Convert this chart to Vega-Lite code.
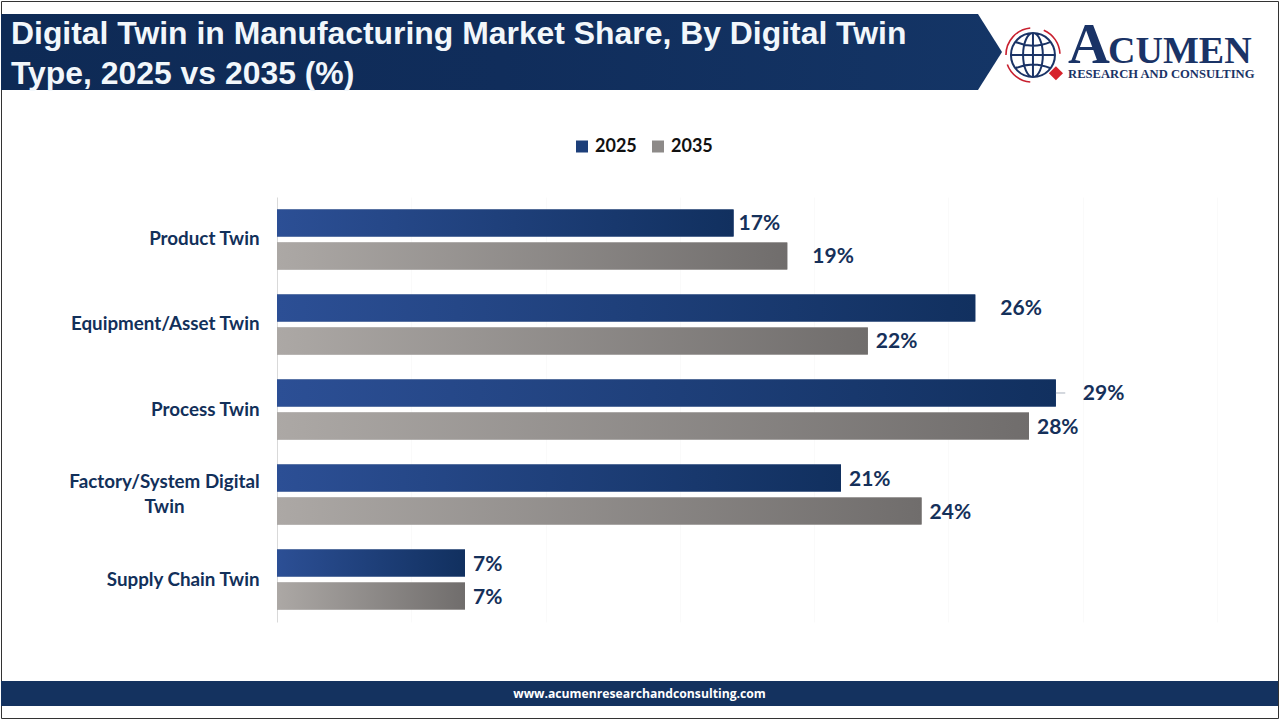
{
  "$schema": "https://vega.github.io/schema/vega-lite/v6.json",
  "background": "white",
  "padding": 0,
  "spacing": 0,
  "bounds": "flush",
  "config": {"view": {"stroke": null}, "font": "Lato"},
  "datasets": {
    "shares": [
      {"category": "Product Twin", "year": "2025", "share": 17},
      {"category": "Product Twin", "year": "2035", "share": 19},
      {"category": "Equipment/Asset Twin", "year": "2025", "share": 26},
      {"category": "Equipment/Asset Twin", "year": "2035", "share": 22},
      {"category": "Process Twin", "year": "2025", "share": 29},
      {"category": "Process Twin", "year": "2035", "share": 28},
      {"category": "Factory/System Digital Twin", "year": "2025", "share": 21},
      {"category": "Factory/System Digital Twin", "year": "2035", "share": 24},
      {"category": "Supply Chain Twin", "year": "2025", "share": 7},
      {"category": "Supply Chain Twin", "year": "2035", "share": 7}
    ],
    "banner": [
      {"u": 0, "low": 0, "high": 1},
      {"u": 0.976, "low": 0, "high": 1},
      {"u": 1, "low": 0.5, "high": 0.5}
    ]
  },
  "vconcat": [
    {
      "hconcat": [
        {
          "width": 1277,
          "height": 717,
          "view": {"stroke": "#333333", "strokeWidth": 1},
          "data": {"values": []},
          "mark": "rule",
          "encoding": {}
        }
      ],
      "spacing": 0,
      "bounds": "flush"
    },
    {"width": 1, "height": 13, "data": {"values": []}, "mark": "rule", "encoding": {}},
    {
      "hconcat": [
        {
          "width": 1001,
          "height": 76,
          "title": {
            "text": ["Digital Twin in Manufacturing Market Share, By Digital Twin", "Type, 2025 vs 2035 (%)"],
            "anchor": "start",
            "frame": "group",
            "dx": 10,
            "offset": -77,
            "font": "Liberation Sans",
            "fontSize": 31.9,
            "fontWeight": "bold",
            "lineHeight": 40,
            "color": "#f2f7fb"
          },
          "data": {"name": "banner"},
          "mark": {
            "type": "area",
            "color": {
              "gradient": "linear",
              "x1": 0,
              "x2": 1,
              "y1": 0,
              "y2": 0,
              "stops": [
                {"offset": 0, "color": "#0e2a55"},
                {"offset": 0.5, "color": "#102d5b"},
                {"offset": 1, "color": "#143566"}
              ]
            }
          },
          "encoding": {
            "x": {"field": "u", "type": "quantitative", "axis": null, "scale": {"domain": [0, 1], "nice": false}},
            "y": {"field": "low", "type": "quantitative", "axis": null, "scale": {"domain": [0, 1], "nice": false, "zero": false}},
            "y2": {"field": "high"}
          }
        },
        {
          "width": 258,
          "height": 76,
          "data": {"values": [{}]},
          "encoding": {
            "x": {"type": "quantitative", "axis": null, "scale": {"domain": [0, 1], "nice": false, "zero": false}},
            "y": {"type": "quantitative", "axis": null, "scale": {"domain": [1, 0], "nice": false, "zero": false}}
          },
          "layer": [
            {
              "mark": {
                "type": "point",
                "filled": false,
                "color": "#1a3366",
                "strokeWidth": 2,
                "opacity": 1,
                "size": 1936,
                "shape": "M-1,0A1,1,0,1,1,1,0A1,1,0,1,1,-1,0ZM-0.45,0A0.45,1,0,1,1,0.45,0A0.45,1,0,1,1,-0.45,0ZM0,-1L0,1M-1,0L1,0M-0.8,-0.6Q0,-0.25,0.8,-0.6M-0.8,0.6Q0,0.25,0.8,0.6"
              },
              "encoding": {"x": {"datum": 0.12, "type": "quantitative"}, "y": {"datum": 0.54, "type": "quantitative"}}
            },
            {
              "mark": {
                "type": "point",
                "filled": false,
                "color": "#c8202f",
                "strokeWidth": 1.6,
                "opacity": 1,
                "size": 2916,
                "shape": "M-1,0A1,1,0,0,1,-0.1,-1M0.4,-0.92A1,1,0,0,1,1,-0.05M-0.95,0.35A1,1,0,0,0,-0.1,1"
              },
              "encoding": {"x": {"datum": 0.12, "type": "quantitative"}, "y": {"datum": 0.54, "type": "quantitative"}}
            },
            {
              "mark": {"type": "point", "filled": true, "shape": "diamond", "color": "#d7222b", "opacity": 1, "size": 200},
              "encoding": {"x": {"datum": 0.209, "type": "quantitative"}, "y": {"datum": 0.78, "type": "quantitative"}}
            },
            {
              "mark": {"type": "text", "text": "A", "align": "left", "baseline": "alphabetic", "font": "Liberation Serif", "fontWeight": "bold", "fontSize": 58, "color": "#1a3366"},
              "encoding": {"x": {"datum": 0.256, "type": "quantitative"}, "y": {"datum": 0.645, "type": "quantitative"}}
            },
            {
              "mark": {"type": "text", "text": "CUMEN", "align": "left", "baseline": "alphabetic", "font": "Liberation Serif", "fontWeight": "bold", "fontSize": 38, "color": "#1a3366"},
              "encoding": {"x": {"datum": 0.411, "type": "quantitative"}, "y": {"datum": 0.645, "type": "quantitative"}}
            },
            {
              "mark": {"type": "text", "text": "RESEARCH AND CONSULTING", "align": "left", "baseline": "alphabetic", "font": "Liberation Serif", "fontWeight": "bold", "fontSize": 12.6, "color": "#1a3366"},
              "encoding": {"x": {"datum": 0.256, "type": "quantitative"}, "y": {"datum": 0.842, "type": "quantitative"}}
            }
          ]
        }
      ],
      "spacing": 0,
      "bounds": "flush"
    },
    {"width": 1, "height": 182.5, "data": {"values": []}, "mark": "rule", "encoding": {}},
    {
      "hconcat": [
        {"width": 276, "height": 1, "data": {"values": []}, "mark": "rule", "encoding": {}},
        {
          "width": 940,
          "height": 425,
          "data": {"name": "shares"},
          "encoding": {
            "x": {
              "field": "share",
              "type": "quantitative",
              "title": null,
              "scale": {"domain": [0, 35], "nice": false},
              "axis": {"values": [5, 10, 15, 20, 25, 30, 35], "labels": false, "ticks": false, "domain": false, "grid": true, "gridColor": "#fafafa"}
            },
            "y": {
              "field": "category",
              "type": "nominal",
              "sort": null,
              "title": null,
              "scale": {"paddingInner": 0.2941, "paddingOuter": 0.147},
              "axis": {
                "ticks": false,
                "domainColor": "#d9d9d9",
                "labelPadding": 18,
                "labelLimit": 300,
                "labelFont": "Lato",
                "labelFontSize": 18.8,
                "labelFontWeight": "bold",
                "labelColor": "#12305a",
                "labelExpr": "datum.label == 'Factory/System Digital Twin' ? '' : datum.label"
              }
            },
            "yOffset": {"field": "year", "type": "nominal", "scale": {"paddingInner": 0.1818, "paddingOuter": 0}}
          },
          "layer": [
            {
              "mark": "bar",
              "encoding": {
                "color": {
                  "field": "year",
                  "type": "nominal",
                  "title": null,
                  "scale": {"domain": ["2025", "2035"], "range": ["#1d3f7a", "#8d8a88"]},
                  "legend": {
                    "orient": "none",
                    "legendX": 572,
                    "legendY": 136.5,
                    "direction": "horizontal",
                    "symbolType": "square",
                    "symbolSize": 144,
                    "symbolStrokeWidth": 0,
                    "columnPadding": 12,
                    "labelFont": "Lato",
                    "labelFontSize": 18,
                    "labelFontWeight": "bold",
                    "labelColor": "#111111",
                    "encode": {
                      "symbols": {
                        "update": {
                          "fill": {
                            "signal": "{gradient: 'linear', x1: 0, x2: 1, y1: 0, y2: 0, stops: datum.value == '2025' ? [{offset: 0, color: '#2c4f95'}, {offset: 1, color: '#1b3a73'}] : [{offset: 0, color: '#aca8a5'}, {offset: 1, color: '#7d7a79'}]}"
                          }
                        }
                      }
                    }
                  }
                }
              }
            },
            {
              "transform": [{"filter": "datum.year == '2025'"}],
              "mark": {
                "type": "bar",
                "color": {"gradient": "linear", "x1": 0, "x2": 1, "y1": 0, "y2": 0, "stops": [{"offset": 0, "color": "#2c4f95"}, {"offset": 1, "color": "#11305f"}]}
              }
            },
            {
              "transform": [{"filter": "datum.year == '2035'"}],
              "mark": {
                "type": "bar",
                "color": {"gradient": "linear", "x1": 0, "x2": 1, "y1": 0, "y2": 0, "stops": [{"offset": 0, "color": "#aca8a5"}, {"offset": 1, "color": "#706d6c"}]}
              }
            },
            {
              "transform": [{"filter": "datum.share == 29 && datum.year == '2025'"}],
              "mark": {"type": "rule", "color": "#a9b1bd", "strokeWidth": 1},
              "encoding": {"x2": {"datum": 29.35}}
            },
            {
              "transform": [{"filter": "datum.share == 17"}, {"calculate": "datum.share + '%'", "as": "label"}],
              "mark": {"type": "text", "align": "left", "baseline": "middle", "dx": 5, "dy": 1.5, "fontSize": 21, "fontWeight": "bold", "color": "#15305a"},
              "encoding": {"text": {"field": "label"}}
            },
            {
              "transform": [{"filter": "datum.share == 19 || datum.share == 26"}, {"calculate": "datum.share + '%'", "as": "label"}],
              "mark": {"type": "text", "align": "left", "baseline": "middle", "dx": 25, "dy": 1.5, "fontSize": 21, "fontWeight": "bold", "color": "#15305a"},
              "encoding": {"text": {"field": "label"}}
            },
            {
              "transform": [{"filter": "datum.share == 29"}, {"calculate": "datum.share + '%'", "as": "label"}],
              "mark": {"type": "text", "align": "left", "baseline": "middle", "dx": 27, "dy": 1.5, "fontSize": 21, "fontWeight": "bold", "color": "#15305a"},
              "encoding": {"text": {"field": "label"}}
            },
            {
              "transform": [{"filter": "datum.share != 17 && datum.share != 19 && datum.share != 26 && datum.share != 29"}, {"calculate": "datum.share + '%'", "as": "label"}],
              "mark": {"type": "text", "align": "left", "baseline": "middle", "dx": 8, "dy": 1.5, "fontSize": 21, "fontWeight": "bold", "color": "#15305a"},
              "encoding": {"text": {"field": "label"}}
            },
            {
              "transform": [{"filter": "datum.category == 'Factory/System Digital Twin' && datum.year == '2025'"}],
              "mark": {"type": "text", "align": "center", "baseline": "middle", "dx": -112.5, "text": ["Factory/System Digital", "Twin"], "lineHeight": 25, "fontSize": 18.8, "fontWeight": "bold", "color": "#12305a"},
              "encoding": {"x": {"datum": 0, "type": "quantitative"}, "yOffset": {"value": 17.5}}
            }
          ]
        }
      ],
      "spacing": 0,
      "bounds": "flush"
    },
    {"width": 1, "height": 483.5, "data": {"values": []}, "mark": "rule", "encoding": {}},
    {
      "width": 1277,
      "height": 25,
      "view": {"fill": "#14325f"},
      "data": {"values": [{"site": "www.acumenresearchandconsulting.com"}]},
      "mark": {"type": "text", "font": "Open Sans", "fontSize": 12.2, "fontWeight": "bold", "color": "white"},
      "encoding": {"text": {"field": "site"}}
    }
  ]
}
